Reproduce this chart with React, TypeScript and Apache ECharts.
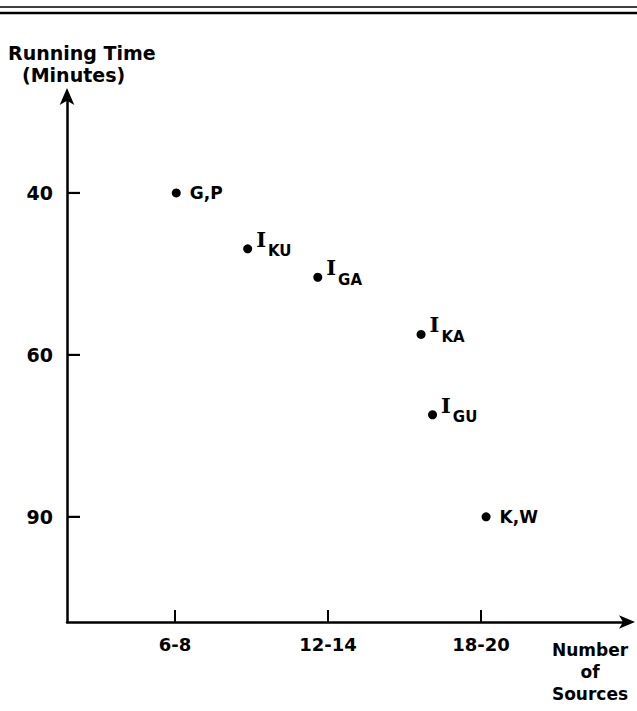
import React, { useEffect, useRef } from "react";
import * as echarts from "echarts";

const xTickValues = [7, 13, 19];
const xTickLabels = ["6-8", "12-14", "18-20"];
const yTickValues = [40, 60, 90];

const pointX = [7.05, 9.85, 12.6, 16.65, 17.1, 19.2];
const pointY = [40, 46, 49.4, 57, 69.7, 90];
const labelMain = ["G,P", "I", "I", "I", "I", "K,W"];
const labelSub = ["", "KU", "GA", "KA", "GU", ""];

const X_MIN = 2.765;
const X_MAX = 24.765;
const Y_MIN = 31.3;
const Y_MAX = 117.1;

const FONT = "DejaVu Sans";

export default function App() {
  const ref = useRef<HTMLDivElement>(null);
  useEffect(() => {
    if (!ref.current) return;
    const chart = echarts.init(ref.current, null, { renderer: "svg" });
    const data = pointX.map((x, i) => ({
      value: [x, pointY[i]],
      label: labelSub[i]
        ? {
            position: "right",
            distance: 4,
            offset: [0, -5],
            formatter: `{i|${labelMain[i]}}{s|${labelSub[i]}}`,
          }
        : {
            position: "right",
            distance: 9,
            offset: [0, 0],
            formatter: `{t|${labelMain[i]}}`,
          },
    }));
    const baseGraphic: any[] = [
      { id: "rule1", type: "line", shape: { x1: 0, y1: 7, x2: 637, y2: 7 }, style: { stroke: "#000", lineWidth: 1.5 } },
      { id: "rule2", type: "line", shape: { x1: 0, y1: 13, x2: 637, y2: 13 }, style: { stroke: "#000", lineWidth: 2.5 } },
      {
        id: "ytitle1",
        type: "text",
        x: 8,
        y: 53,
        style: { text: "Running Time", font: `bold 19px "${FONT}"`, fill: "#000", textVerticalAlign: "middle" },
      },
      {
        id: "ytitle2",
        type: "text",
        x: 22,
        y: 75,
        style: { text: "(Minutes)", font: `bold 19px "${FONT}"`, fill: "#000", textVerticalAlign: "middle" },
      },
      {
        id: "xtitle",
        type: "text",
        x: 590,
        y: 639,
        style: {
          text: "Number\nof\nSources",
          font: `bold 17px "${FONT}"`,
          fill: "#000",
          textAlign: "center",
          textVerticalAlign: "top",
          lineHeight: 22,
        },
      },
    ];
    chart.setOption({
      animation: false,
      backgroundColor: "#fff",
      grid: { left: 67, top: 95, width: 561, height: 527 },
      xAxis: {
        type: "value",
        min: X_MIN,
        max: X_MAX,
        splitLine: { show: false },
        axisLine: {
          show: true,
          onZero: false,
          symbol: ["none", "arrow"],
          symbolSize: [10, 16],
          symbolOffset: [0, 7],
          lineStyle: { color: "#000", width: 2.5 },
        },
        axisTick: {
          show: true,
          inside: true,
          length: 12,
          customValues: xTickValues,
          lineStyle: { color: "#000", width: 2 },
        },
        axisLabel: {
          show: true,
          margin: 13,
          customValues: xTickValues,
          formatter: (v: number) => {
            const k = xTickValues.indexOf(Math.round(v));
            return k >= 0 ? xTickLabels[k] : "";
          },
          color: "#000",
          fontFamily: FONT,
          fontWeight: "bold",
          fontSize: 18,
        },
      },
      yAxis: {
        type: "log",
        inverse: true,
        min: Y_MIN,
        max: Y_MAX,
        splitLine: { show: false },
        axisLine: {
          show: true,
          onZero: false,
          symbol: ["none", "arrow"],
          symbolSize: [11, 17],
          symbolOffset: [0, 7],
          lineStyle: { color: "#000", width: 2.5 },
        },
        axisTick: { show: false },
        axisLabel: {
          show: true,
          margin: 14,
          customValues: yTickValues,
          formatter: (v: number) => String(Math.round(v)),
          color: "#000",
          fontFamily: FONT,
          fontWeight: "bold",
          fontSize: 19,
        },
      },
      series: [
        {
          type: "scatter",
          symbol: "circle",
          symbolSize: 9,
          itemStyle: { color: "#000", opacity: 1 },
          label: {
            show: true,
            color: "#000",
            opacity: 1,
            rich: {
              t: { fontFamily: FONT, fontWeight: "bold", fontSize: 17, color: "#000" },
              i: {
                fontFamily: "DejaVu Serif",
                fontWeight: "bold",
                fontSize: 21,
                color: "#000",
                verticalAlign: "bottom",
                padding: [0, 2, 9, 0],
              },
              s: {
                fontFamily: FONT,
                fontWeight: "bold",
                fontSize: 15,
                color: "#000",
                verticalAlign: "bottom",
              },
            },
          },
          data,
        },
      ],
      graphic: baseGraphic,
    });
    const tickGraphic = yTickValues.map((v, i) => {
      const p = chart.convertToPixel({ gridIndex: 0 }, [X_MIN, v]) as number[];
      return {
        id: "ytick" + i,
        type: "rect",
        z: 100,
        shape: { x: p[0], y: p[1] - 1.1, width: 13, height: 2.2 },
        style: { fill: "#000" },
      };
    });
    chart.setOption({ graphic: [...baseGraphic, ...tickGraphic] });
    return () => chart.dispose();
  }, []);
  return <div ref={ref} style={{ position: "absolute", left: 0, top: 0, width: 637, height: 711 }} />;
}
